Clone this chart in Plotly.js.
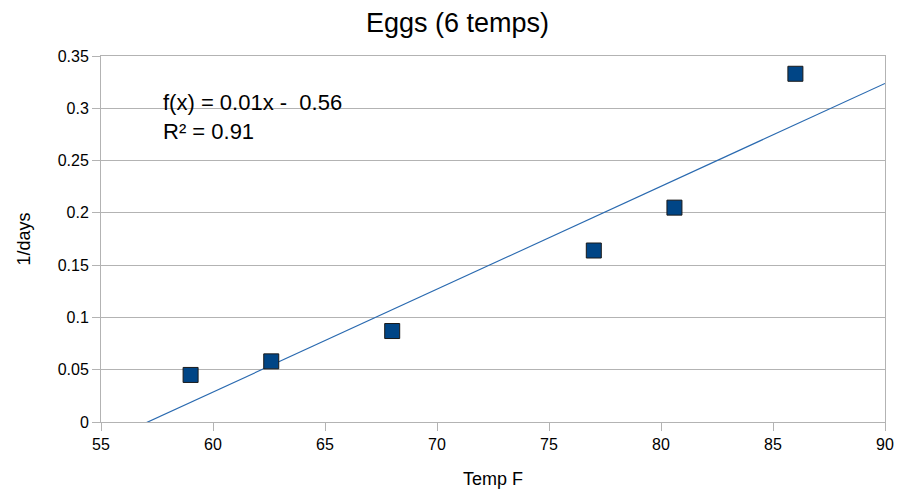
<!DOCTYPE html>
<html>
<head>
<meta charset="utf-8">
<script src="https://cdn.plot.ly/plotly-3.0.1.min.js"></script>
<style>html,body{margin:0;padding:0;background:#fff;}#chart{width:915px;height:490px;}</style>
</head>
<body>
<div id="chart"></div>
<script>
const tempF = [59, 62.6, 68, 77, 80.6, 86];
const invDays = [0.045, 0.058, 0.087, 0.164, 0.205, 0.333];
const xTicks = [55, 60, 65, 70, 75, 80, 85, 90];
const yTicks = [0, 0.05, 0.1, 0.15, 0.2, 0.25, 0.3, 0.35];

// least-squares trend line
const n = tempF.length;
const mx = tempF.reduce((a, b) => a + b, 0) / n;
const my = invDays.reduce((a, b) => a + b, 0) / n;
let sxy = 0, sxx = 0, syy = 0;
for (let i = 0; i < n; i++) {
  sxy += (tempF[i] - mx) * (invDays[i] - my);
  sxx += (tempF[i] - mx) ** 2;
  syy += (invDays[i] - my) ** 2;
}
const slope = sxy / sxx;
const intercept = my - slope * mx;
const r2 = (sxy * sxy) / (sxx * syy);
const lineX = [55, 90];
const lineY = lineX.map(x => slope * x + intercept);

const font = "Liberation Sans, Arial, sans-serif";
const traces = [
  {x: lineX, y: lineY, mode: 'lines', line: {color: '#2a6ab0', width: 1.2}, hoverinfo: 'skip', showlegend: false},
  {x: tempF, y: invDays, mode: 'markers', showlegend: false,
   marker: {symbol: 'square', size: 15, color: '#004586', line: {color: '#1a1a1a', width: 1}}}
];
const layout = {
  width: 915, height: 490,
  margin: {l: 101, r: 30, t: 56, b: 68},
  paper_bgcolor: '#fff', plot_bgcolor: '#fff',
  font: {family: font, color: '#000', size: 16},
  title: {text: 'Eggs (6 temps)', x: 0.5, xanchor: 'center', y: 0.955, yanchor: 'middle', font: {size: 27, family: font}},
  xaxis: {range: [55, 90], tickvals: xTicks, ticktext: xTicks.map(String), showgrid: false, zeroline: false,
    showline: true, linecolor: '#b3b3b3', linewidth: 1, mirror: true, ticks: 'outside', ticklen: 8, tickcolor: '#b3b3b3',
    tickfont: {size: 16}, title: {text: 'Temp F', font: {size: 18}, standoff: 20}},
  yaxis: {range: [0, 0.35], tickvals: yTicks, ticktext: yTicks.map(String), showgrid: true, gridcolor: '#b3b3b3', zeroline: false,
    showline: true, linecolor: '#b3b3b3', linewidth: 1, mirror: true, ticks: 'outside', ticklen: 8, tickcolor: '#b3b3b3',
    tickfont: {size: 16}, title: {text: '1/days', font: {size: 18}, standoff: 22}},
  annotations: [
    {xref: 'paper', yref: 'paper', x: 0.077, y: 0.832, xanchor: 'left', yanchor: 'middle', showarrow: false, align: 'left',
     text: 'f(x) = ' + slope.toFixed(2) + 'x -\u00a0 ' + Math.abs(intercept).toFixed(2) + '<br>R² = ' + r2.toFixed(2), font: {size: 22, family: font}}
  ]
};
Plotly.newPlot('chart', traces, layout, {displayModeBar: false, staticPlot: true});
</script>
</body>
</html>
